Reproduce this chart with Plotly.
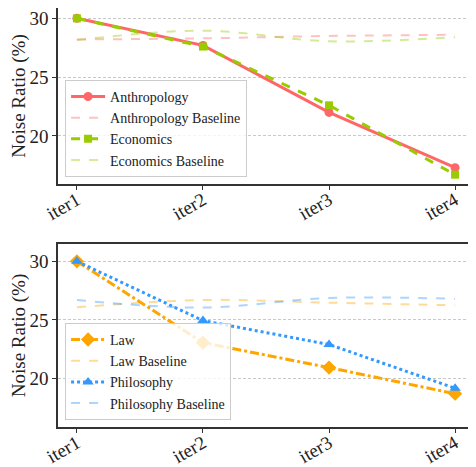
import plotly.graph_objects as go

iters = ["iter1", "iter2", "iter3", "iter4"]
anthro = [30.0, 27.7, 22.0, 17.3]
anthro_base = [28.2, 28.3, 28.5, 28.6]
econ = [30.0, 27.6, 22.6, 16.7]
econ_base = [28.15, 28.95, 28.05, 28.4]
law = [30.0, 23.06, 20.93, 18.7]
law_base = [26.08, 26.7, 26.47, 26.25]
philo = [30.0, 24.94, 22.9, 19.17]
philo_base = [26.7, 26.05, 26.87, 26.8]
yticks = [20, 25, 30]

FONT = "Liberation Serif"
fig = go.Figure()

def main(name, y, color, dash, symbol, xa, ya, leg, size=9):
    fig.add_trace(go.Scatter(x=list(range(4)), y=y, name=name, mode="lines+markers",
                             line=dict(color=color, width=3, dash=dash),
                             marker=dict(symbol=symbol, size=size, color=color),
                             xaxis=xa, yaxis=ya, legend=leg))

def base(name, y, color, xa, ya, leg):
    fig.add_trace(go.Scatter(x=list(range(4)), y=y, name=name, mode="lines",
                             line=dict(color=color, width=2, dash="dash", shape="spline"),
                             opacity=0.4, xaxis=xa, yaxis=ya, legend=leg))

main("Anthropology", anthro, "#ff6666", "solid", "circle", "x", "y", "legend")
base("Anthropology Baseline", anthro_base, "#ff6666", "x", "y", "legend")
main("Economics", econ, "#99cc00", "dash", "square", "x", "y", "legend", 8)
base("Economics Baseline", econ_base, "#99cc00", "x", "y", "legend")
main("Law", law, "#ffa500", "dashdot", "diamond", "x2", "y2", "legend2", 11)
base("Law Baseline", law_base, "#ffa500", "x2", "y2", "legend2")
main("Philosophy", philo, "#3399ff", "dot", "triangle-up", "x2", "y2", "legend2", 10)
base("Philosophy Baseline", philo_base, "#3399ff", "x2", "y2", "legend2")

xcommon = dict(range=[-0.15, 3.15], tickmode="array", tickvals=list(range(4)), ticktext=iters,
               tickangle=-30, showgrid=False, zeroline=False, showline=True, linecolor="#333",
               linewidth=1.5, ticks="outside", ticklen=4, tickcolor="#333", ticklabeloverflow="allow",
               ticklabelstandoff=-8,
               automargin=False, tickfont=dict(family=FONT, size=19, color="#222"))
ycommon = dict(tickvals=yticks, showgrid=True, gridcolor="#c8c8c8", griddash="3px,2px", gridwidth=0.8,
               zeroline=False, showline=True, mirror=True, linecolor="#333", linewidth=1.5,
               ticks="outside", ticklen=4, tickcolor="#333", automargin=False, ticklabeloverflow="allow",
               tickfont=dict(family=FONT, size=19, color="#222"),
               title=dict(text="Noise Ratio (%)", font=dict(family=FONT, size=19, color="#222"), standoff=4))

legcommon = dict(font=dict(family=FONT, size=14, color="#222"), bgcolor="rgba(255,255,255,0.8)",
                 bordercolor="#cccccc", borderwidth=1, xanchor="left", yanchor="bottom",
                 tracegroupgap=0, itemwidth=34)

fig.update_layout(
    width=468, height=459, margin=dict(l=50, r=2, t=0, b=40, autoexpand=False),
    paper_bgcolor="white", plot_bgcolor="white",
    font=dict(family=FONT),
    xaxis=dict(**xcommon, anchor="y"),
    yaxis=dict(**ycommon, domain=[0.58, 1.0], range=[15.91, 30.88], anchor="x"),
    xaxis2=dict(**xcommon, anchor="y2", mirror=True),
    yaxis2=dict(**ycommon, domain=[0.0, 0.4368], range=[15.86, 31.48], anchor="x2"),
    legend=dict(**legcommon, x=0.017, y=0.597),
    legend2=dict(**legcommon, x=0.017, y=0.017),
    showlegend=True,
)

fig.write_html("out.html")
